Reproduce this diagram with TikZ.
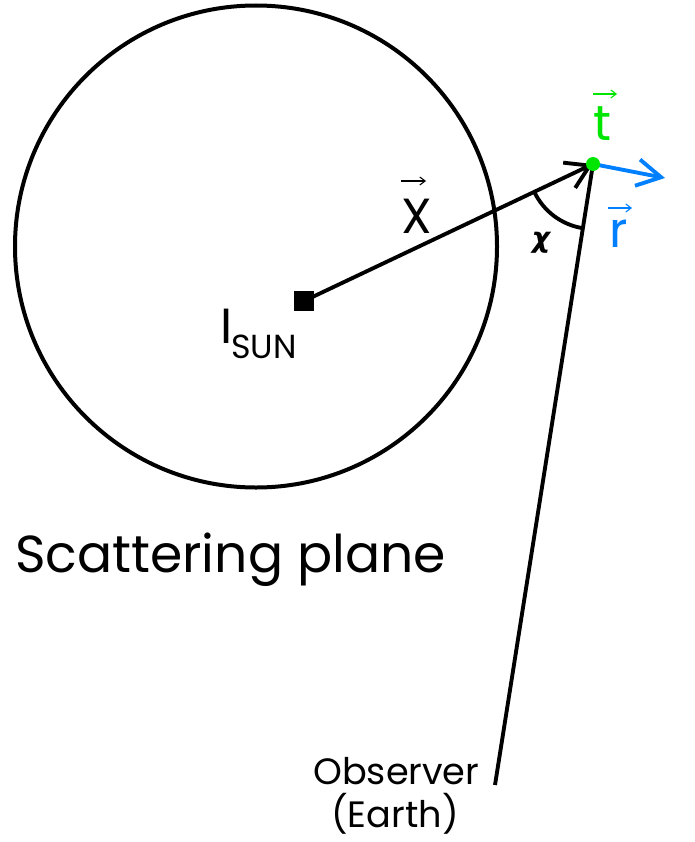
\documentclass[tikz,border=0pt]{standalone}
\usepackage{fontspec}
\setmainfont{Poppins}
\newfontfamily\chifont{DejaVu Sans}
\usetikzlibrary{arrows.meta,calc}
\definecolor{ptgreen}{RGB}{0,230,0}
\definecolor{ptblue}{RGB}{0,128,255}
\begin{document}
\begin{tikzpicture}[x=0.75pt,y=-0.75pt,
  lbl/.style={inner sep=0pt,anchor=base west},
  bigtxt/.style={font=\fontsize{39}{44}\selectfont},
  midtxt/.style={font=\fontsize{37}{42}\selectfont},
  obstxt/.style={font=\fontsize{27.5}{32}\selectfont},
  subtxt/.style={font=\fontsize{25}{28}\selectfont},
  mainline/.style={line width=2.9pt},
  vecarrow/.style={line width=0.8pt,-{Straight Barb[length=4pt,width=6pt]}},
  sunsq/.style={fill=black,minimum size=15pt,inner sep=0pt}]
\useasboundingbox (0,0) rectangle (694,842);
% scattering plane circle
\draw[line width=3pt] (256,246.5) circle[radius=241];
% points
\node[sunsq] (sun) at (304,301) {};
\coordinate (P) at (593,164);
\coordinate (O) at (495,785);
\coordinate (R) at (665,178);
% vectors
\draw[mainline,-{Straight Barb[length=17pt,width=21pt]}] (sun.center) -- (P);
\draw[mainline] (P) -- (O);
\draw[mainline] ($(P)+(154.6:65)$) arc[start angle=154.6,end angle=99.2,radius=65];
\draw[mainline,ptblue,-{Straight Barb[length=18pt,width=20pt]}] (P) -- (R);
\fill[ptgreen] (P) circle[radius=7];
% labels
\node[lbl,bigtxt] (scat) at (15,572) {Scattering plane};
\node[lbl,midtxt] (xlab) at (401,233) {X};
\node[lbl,midtxt] (ilab) at (220,343) {I};
\node[lbl,subtxt] (sunlab) at (231,358) {SUN};
\node[lbl,midtxt,text=ptgreen] (tlab) at (593,140) {t};
\node[lbl,midtxt,text=ptblue] (rlab) at (609,247) {r};
\node[font=\chifont\bfseries\itshape\fontsize{21}{24}\selectfont] (chi) at (541,243) {χ};
\node[lbl,obstxt] (obs) at (313,784) {Observer};
\node[lbl,obstxt] (earth) at (331,827) {(Earth)};
% vector arrows above labels
\coordinate (xa1) at (401,181); \coordinate (xa2) at (426,181);
\coordinate (ta1) at (593,94);  \coordinate (ta2) at (617,94);
\coordinate (ra1) at (608,208); \coordinate (ra2) at (632,208);
\draw[vecarrow] (xa1) -- (xa2);
\draw[vecarrow,ptgreen] (ta1) -- (ta2);
\draw[vecarrow,ptblue] (ra1) -- (ra2);
\end{tikzpicture}
\end{document}
